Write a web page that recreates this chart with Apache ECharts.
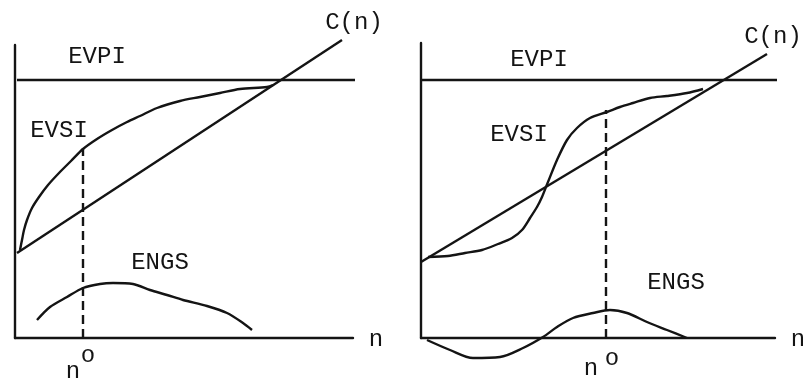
<!DOCTYPE html>
<html>
<head>
<meta charset="utf-8">
<script src="https://cdn.jsdelivr.net/npm/echarts@6/dist/echarts.min.js"></script>
<style>html,body{margin:0;padding:0;background:#fff;}#c{width:803px;height:381px;}</style>
</head>
<body>
<div id="c"></div>
<script>
// Left panel (concave EVSI); units: n along x, value along y (arbitrary units)
const leftEVPI = [[2, 258], [353, 258]];
const leftCost = [[2, 85], [327, 298]];
const leftEVSI = [[5, 88], [7, 98], [9, 108], [12, 118], [17, 130], [24, 141], [33, 153], [44, 165], [56, 177], [68, 189], [82, 199], [97, 208], [112, 216], [125, 222], [142, 230], [165, 237], [185, 241], [205, 245], [225, 249], [252, 251], [258, 253]];
const leftENGS = [[22, 18], [35, 31], [52, 41], [68, 50], [85, 54], [98, 55], [118, 54], [135, 48], [152, 43], [168, 38], [192, 32], [212, 25], [228, 15], [237, 8]];
const leftNopt = [[68, 0], [68, 190]];

// Right panel (S-shaped EVSI)
const rightEVPI = [[0, 258], [359, 258]];
const rightCost = [[0, 76], [346, 284]];
const rightEVSI = [[7, 81], [27, 82], [44, 85], [61, 88], [77, 94], [91, 100], [101, 108], [109, 120], [116, 131], [121, 141], [127, 156], [136, 178], [146, 198], [156, 210], [169, 220], [186, 226], [199, 231], [212, 235], [229, 240], [246, 242], [266, 245], [282, 249]];
const rightENGS = [[6, -2], [29, -12], [52, -20], [79, -19], [102, -10], [122, 1], [136, 11], [152, 20], [172, 25], [189, 28], [206, 25], [226, 16], [246, 8], [266, 0]];
const rightNopt = [[185, 0], [185, 228]];

const INK = '#141414';
const LW = 2.4;

function axisPair(g, xmax, ymax) {
  const line = {show: true, onZero: false, lineStyle: {color: INK, width: LW}};
  return {
    x: {gridIndex: g, type: 'value', min: 0, max: xmax, axisLine: line, axisTick: {show: false}, axisLabel: {show: false}, splitLine: {show: false}},
    y: {gridIndex: g, type: 'value', min: 0, max: ymax, axisLine: line, axisTick: {show: false}, axisLabel: {show: false}, splitLine: {show: false}}
  };
}
const a0 = axisPair(0, 338, 293), a1 = axisPair(1, 354, 295);

function ser(g, data, opts) {
  return Object.assign({
    type: 'line', xAxisIndex: g, yAxisIndex: g, data: data, showSymbol: false, clip: false,
    lineStyle: {color: INK, width: LW}, silent: true, animation: false
  }, opts || {});
}

function txt(s, x, y, size) {
  return {type: 'text', x: x, y: y, silent: true,
    style: {text: s, font: (size || 24) + 'px "Liberation Mono", monospace', fill: INK, align: 'center', verticalAlign: 'middle'}};
}

const chart = echarts.init(document.getElementById('c'), null, {renderer: 'canvas'});
chart.setOption({
  animation: false,
  backgroundColor: '#fff',
  grid: [
    {left: 15, top: 45, width: 338, height: 293},
    {left: 421, top: 43, width: 354, height: 295}
  ],
  xAxis: [a0.x, a1.x],
  yAxis: [a0.y, a1.y],
  series: [
    ser(0, leftEVPI),
    ser(0, leftCost),
    ser(0, leftEVSI, {smooth: 0.3}),
    ser(0, leftENGS, {smooth: 0.3}),
    ser(0, leftNopt, {lineStyle: {color: INK, width: LW, type: [9, 5]}}),
    ser(1, rightEVPI),
    ser(1, rightCost),
    ser(1, rightEVSI, {smooth: 0.3}),
    ser(1, rightENGS, {smooth: 0.3}),
    ser(1, rightNopt, {lineStyle: {color: INK, width: LW, type: [9, 5]}})
  ],
  graphic: [
    txt('EVPI', 97, 57),
    txt('C(n)', 354, 23),
    txt('EVSI', 59, 131),
    txt('ENGS', 160, 263),
    txt('n', 376, 340),
    txt('n', 73, 372),
    txt('o', 88, 356),
    txt('EVPI', 539, 60),
    txt('C(n)', 773, 37),
    txt('EVSI', 519, 135),
    txt('ENGS', 676, 283),
    txt('n', 798, 340),
    txt('n', 591, 369),
    txt('o', 612, 359)
  ]
});
</script>
</body>
</html>
